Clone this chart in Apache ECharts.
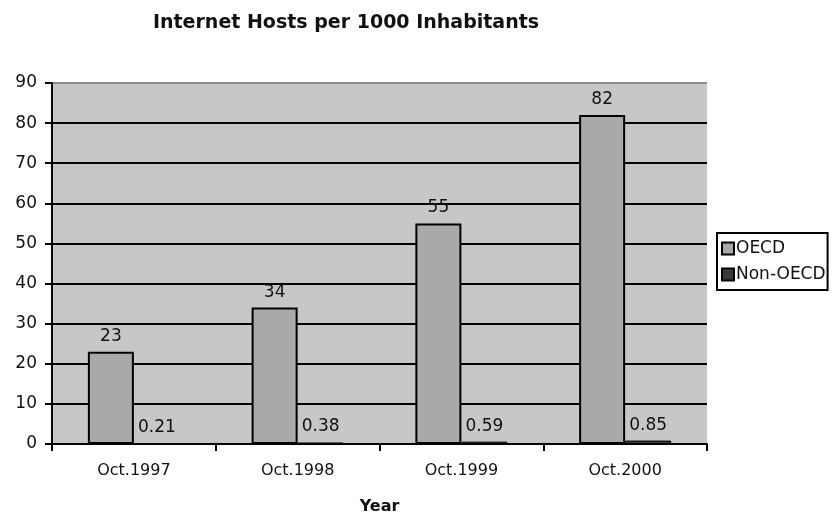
<!DOCTYPE html>
<html><head><meta charset="utf-8">
<script src="https://cdn.jsdelivr.net/npm/echarts@6/dist/echarts.min.js"></script>
<style>html,body{margin:0;padding:0;background:#fff}#c{width:835px;height:520px}</style>
</head><body><div id="c"></div>
<script>
const categories = ['Oct.1997', 'Oct.1998', 'Oct.1999', 'Oct.2000'];
const oecd = [23, 34, 55, 82];
const nonOecd = [0.21, 0.38, 0.59, 0.85];
const yTicks = [0, 10, 20, 30, 40, 50, 60, 70, 80, 90];

const font = '"DejaVu Sans", sans-serif';
const chart = echarts.init(document.getElementById('c'));
chart.setOption({
  animation: false,
  textStyle: { fontFamily: font, color: '#111' },
  title: {
    text: 'Internet Hosts per 1000 Inhabitants',
    left: 341, top: 9, textAlign: 'center',
    textStyle: { fontFamily: font, fontSize: 19, fontWeight: 'bold', color: '#111' }
  },
  legend: {
    orient: 'vertical', left: 717, top: 233,
    borderColor: '#000', borderWidth: 2, padding: [7, 2, 7, 4],
    itemWidth: 12, itemHeight: 12, itemGap: 9,
    icon: 'rect',
    textStyle: { fontFamily: font, fontSize: 17, color: '#111', padding: [0, 0, 0, -3] },
    data: ['OECD', 'Non-OECD']
  },
  grid: {
    left: 52, right: 128, top: 83, bottom: 73,
    show: true, backgroundColor: '#c7c7c7', borderWidth: 0
  },
  xAxis: {
    type: 'category', data: categories,
    name: 'Year', nameLocation: 'middle', nameGap: 55,
    nameTextStyle: { fontFamily: font, fontSize: 16, fontWeight: 'bold', color: '#111' },
    axisLine: { lineStyle: { color: '#000', width: 2 } },
    axisTick: { show: true, length: 7, lineStyle: { color: '#000', width: 2 } },
    axisLabel: { fontSize: 16, color: '#111', margin: 19 }
  },
  yAxis: {
    type: 'value', min: 0, max: 90, interval: 10,
    axisLine: { show: true, lineStyle: { color: '#000', width: 2 } },
    axisTick: { show: true, length: 7, lineStyle: { color: '#000', width: 2 } },
    axisLabel: { fontSize: 17, color: '#111', margin: 15,
      formatter: v => yTicks.includes(v) ? String(v) : '' },
    splitLine: { show: true, lineStyle: { width: 2,
      color: ['#000','#000','#000','#000','#000','#000','#000','#000','#000','#8a8a8a'] } }
  },
  series: [
    {
      name: 'OECD', type: 'bar', data: oecd,
      barWidth: 46, barGap: '0%',
      itemStyle: { color: '#a9a9a9', borderColor: '#000', borderWidth: 2 },
      label: { show: true, position: 'top', distance: 7, fontSize: 17, color: '#111', fontFamily: font }
    },
    {
      name: 'Non-OECD', type: 'bar', data: nonOecd,
      barWidth: 46, barGap: '0%',
      itemStyle: { color: '#3a3a3a', borderColor: '#000', borderWidth: 1 },
      label: { show: true, position: 'top', distance: 7, fontSize: 17, color: '#111', fontFamily: font }
    }
  ]
});
</script></body></html>
